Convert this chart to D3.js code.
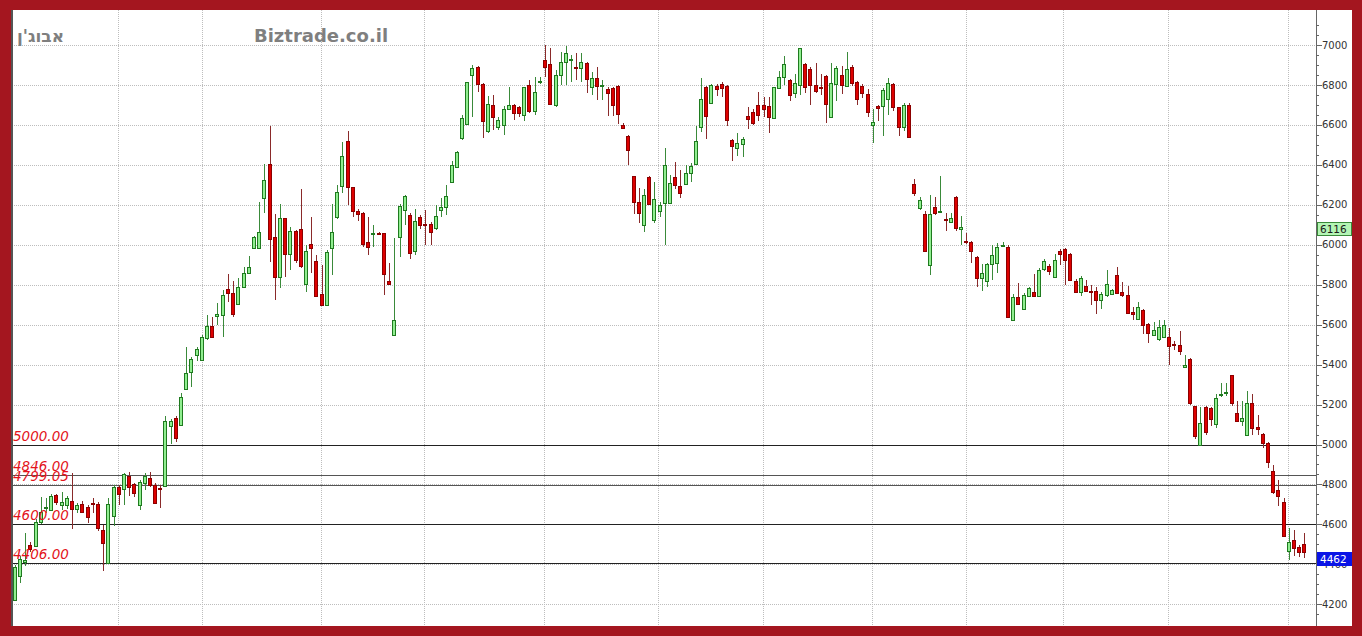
<!DOCTYPE html>
<html><head><meta charset="utf-8">
<script src="https://cdn.jsdelivr.net/npm/d3@7"></script>
<style>html,body{margin:0;padding:0;background:#a4161f;} svg{display:block}</style>
</head><body>
<svg id="c" width="1362" height="636"></svg>
<script>
// ---- data ----
const opens = [4220,4340,4410,4495,4490,4613,4685,4670,4745,4697,4697,4715,4677,4700,4688,4705,4700,4570,4405,4640,
4788,4775,4840,4800,4697,4805,4830,4796,4782,4792,5095,5135,5097,5276,5365,5448,5422,5531,5593,5643,
5648,5777,5757,5703,5790,5860,5982,5985,6235,6403,6040,5837,6132,5953,6068,6079,5803,6003,5920,5753,
5698,5982,6137,6295,6521,6287,6170,6160,6012,6055,6058,6057,5820,5548,6038,6174,6150,5970,6140,6102,
6102,6082,6174,6187,6315,6391,6533,6603,6850,6891,6805,6572,6700,6591,6600,6678,6700,6690,6650,6800,
6670,6814,6925,6903,6700,6850,6917,6928,6888,6883,6911,6791,6833,6798,6778,6786,6795,6599,6544,6346,
6215,6099,6341,6124,6170,6210,6207,6341,6294,6304,6361,6404,6591,6791,6708,6795,6803,6795,6524,6483,
6504,6644,6666,6700,6700,6695,6633,6786,6841,6825,6758,6800,6903,6878,6800,6788,6845,6641,6805,6850,
6795,6888,6816,6795,6753,6599,6695,6695,6728,6805,6688,6590,6700,6304,6182,6152,5898,6187,6165,6128,
6115,6241,6077,6020,6015,5940,5832,5820,5903,5910,5995,5990,5626,5740,5681,5743,5765,5743,5877,5893,
5837,5970,5977,5953,5820,5765,5793,5767,5768,5726,5748,5753,5848,5765,5748,5664,5631,5673,5603,5548,
5526,5539,5539,5503,5498,5386,5426,5192,4997,5186,5181,5102,5250,5257,5347,5160,5118,5047,5206,5088,
5052,5008,4868,4771,4710,4468,4520,4485,4500];
const highs = [4395,4440,4555,4510,4625,4738,4730,4750,4752,4762,4740,4855,4705,4715,4695,4730,4710,4595,4730,4795,
4797,4858,4862,4806,4822,4858,4863,4806,4797,5142,5130,5142,5260,5486,5440,5490,5550,5648,5640,5710,
5773,5853,5820,5832,5890,5943,6045,6215,6403,6594,6154,6204,6135,6090,6075,6277,5998,6140,5950,5898,
5975,6204,6300,6516,6570,6290,6180,6165,6140,6098,6062,6060,5908,6032,6204,6249,6160,6180,6150,6175,
6115,6199,6232,6299,6420,6470,6650,6815,6900,6895,6810,6745,6750,6638,6695,6791,6705,6695,6791,6825,
6838,6841,7000,6983,6875,6966,6995,6950,6958,6958,6915,6866,6888,6825,6791,6791,6800,6611,6549,6346,
6282,6277,6345,6315,6215,6487,6350,6416,6374,6399,6410,6594,6833,6795,6805,6805,6816,6800,6530,6558,
6540,6688,6680,6766,6740,6741,6792,6870,6945,6828,6855,6985,6910,6888,6908,6855,6850,6911,6895,6895,
6966,6900,6820,6805,6778,6678,6700,6783,6833,6810,6690,6710,6710,6332,6240,6170,6249,6241,6344,6157,
6157,6245,6144,6060,6020,5945,5903,5910,5998,6007,6015,5998,5755,5807,5760,5790,5853,5883,5928,5905,
5955,5980,5985,5960,5830,5843,5825,5798,5790,5765,5873,5780,5890,5815,5793,5690,5715,5680,5608,5615,
5625,5625,5581,5518,5569,5448,5435,5195,5190,5192,5190,5252,5306,5310,5350,5218,5218,5268,5254,5147,
5060,5015,4897,4821,4733,4580,4570,4495,4555];
const lows = [4215,4305,4390,4460,4485,4600,4655,4665,4695,4672,4675,4575,4655,4655,4605,4655,4565,4368,4400,4590,
4697,4697,4740,4735,4672,4770,4787,4700,4680,4785,5005,5015,5095,5272,5290,5420,5418,5525,5535,5600,
5540,5715,5640,5700,5788,5853,5978,5982,6160,5915,5723,5782,5840,5873,5907,5885,5765,5857,5738,5695,
5695,5848,6130,6257,6200,6140,6120,5990,5948,5990,6052,5748,5800,5545,5940,6099,5930,5950,6080,5998,
6000,6072,6140,6149,6310,6388,6525,6600,6641,6766,6533,6558,6575,6574,6550,6674,6625,6638,6620,6658,
6650,6805,6841,6700,6690,6800,6800,6816,6825,6816,6758,6750,6725,6725,6645,6645,6603,6578,6400,6154,
6107,6065,6200,6107,6140,5998,6205,6277,6232,6299,6315,6400,6566,6528,6705,6745,6741,6594,6420,6444,
6440,6578,6600,6621,6640,6558,6628,6780,6800,6720,6733,6750,6758,6700,6760,6750,6611,6638,6721,6755,
6788,6795,6700,6733,6638,6508,6620,6545,6650,6670,6543,6570,6535,6244,6175,5965,5848,6149,6160,6070,
6107,6070,5998,6002,5907,5790,5770,5790,5823,5857,5990,5635,5620,5698,5675,5740,5740,5740,5870,5850,
5832,5900,5798,5818,5760,5743,5765,5698,5656,5680,5740,5748,5755,5740,5656,5626,5626,5553,5506,5543,
5520,5533,5397,5475,5448,5384,5198,5030,4995,5050,5092,5085,5240,5245,5195,5113,5095,5045,5047,5047,
4985,4880,4750,4691,4535,4420,4440,4438,4430];
const closes = [4385,4425,4420,4475,4612,4663,4688,4740,4713,4712,4730,4675,4697,4663,4635,4703,4580,4505,4700,4788,
4752,4850,4788,4758,4813,4840,4796,4708,4780,5118,5117,5035,5240,5356,5430,5476,5536,5592,5540,5656,
5748,5757,5653,5790,5857,5887,6040,6062,6323,6027,5837,6132,5952,6068,5923,5893,5968,5985,5745,5698,
5965,6062,6262,6443,6287,6169,6152,6003,5990,6058,6055,5853,5802,5626,6194,6244,5960,6120,6099,6097,
6062,6144,6190,6244,6399,6466,6633,6813,6883,6805,6620,6705,6638,6624,6678,6700,6662,6658,6788,6671,
6763,6818,6891,6705,6850,6916,6958,6932,6884,6917,6830,6833,6795,6802,6758,6700,6653,6583,6474,6212,
6160,6249,6205,6227,6199,6399,6310,6299,6257,6361,6394,6521,6728,6645,6800,6778,6783,6625,6494,6508,
6528,6632,6608,6650,6678,6638,6788,6838,6903,6750,6811,6983,6788,6800,6772,6784,6705,6808,6883,6800,
6878,6808,6728,6758,6666,6616,6683,6775,6808,6688,6588,6700,6540,6260,6224,5970,6154,6160,6168,6126,
6132,6085,6088,6016,5970,5832,5857,5903,5948,5987,6000,5640,5740,5703,5748,5782,5743,5873,5920,5870,
5923,5953,5923,5823,5765,5832,5770,5763,5726,5756,5803,5773,5760,5748,5660,5653,5688,5598,5556,5573,
5590,5598,5493,5500,5470,5397,5206,5042,5110,5064,5126,5231,5254,5261,5208,5118,5135,5206,5085,5080,
5008,4913,4760,4741,4541,4513,4480,4463,4462];
const monthBreaks = [19.9, 36, 58.9, 78.7, 101.8, 123.7, 143.9, 164.9, 182.9, 201.6, 221.8, 244.9];
const levels = [5000, 4846, 4799.05, 4600, 4406];
const levelLabels = ["5000.00", "4846.00", "4799.05", "4600.00", "4406.00"];
const yTicks = d3.range(4200, 7001, 200);
const yMinorTicks = d3.range(4150, 7101, 50);
const markerValues = [6116, 4462];
const titleText = "אבוג'ן";
const siteText = "Biztrade.co.il";

// ---- drawing ----
const svg = d3.select("#c");
const W = 1362, H = 636;
const frame = {l: 12, t: 10, r: 1352, b: 626};
const axisX = 1316;

svg.append("rect").attr("width", W).attr("height", H).attr("fill", "#a4161f");
svg.append("rect").attr("x", frame.l).attr("y", frame.t).attr("width", frame.r - frame.l).attr("height", frame.b - frame.t).attr("fill", "#ffffff");

const y = d3.scaleLinear().domain([4200, 7000]).range([604.3, 45.1]);
const x = d3.scaleLinear().domain([0, opens.length - 1]).range([14.7, 1304.3]);

const g = svg.append("g").attr("shape-rendering", "crispEdges");

// grid
g.selectAll("line.hg").data(yTicks).join("line")
  .attr("x1", frame.l).attr("x2", axisX)
  .attr("y1", d => Math.round(y(d)) + 0.5).attr("y2", d => Math.round(y(d)) + 0.5)
  .attr("stroke", "#bdbdbd").attr("stroke-dasharray", "1,1");
g.selectAll("line.vg").data(monthBreaks).join("line")
  .attr("x1", d => Math.round(x(d)) + 0.5).attr("x2", d => Math.round(x(d)) + 0.5)
  .attr("y1", frame.t).attr("y2", frame.b)
  .attr("stroke", "#bdbdbd").attr("stroke-dasharray", "1,1");

// level lines
g.selectAll("line.lv").data(levels).join("line")
  .attr("x1", frame.l).attr("x2", axisX)
  .attr("y1", d => Math.round(y(d)) + 0.5).attr("y2", d => Math.round(y(d)) + 0.5)
  .attr("stroke", (d, i) => (i === 1 || i === 2) ? "#555" : "#222")
  .attr("stroke-width", (d, i) => (i === 1 || i === 2) ? 1.5 : 1);

// candles
const idx = d3.range(opens.length);
const cg = g.append("g");
idx.forEach(i => {
  const o = opens[i], c = closes[i], h = highs[i], l = lows[i];
  const up = c >= o;
  const r = Math.round(x(i)) - 1;
  const yh = Math.round(y(h)), yl = Math.round(y(l));
  const top = Math.round(y(Math.max(o, c))), bot = Math.round(y(Math.min(o, c)));
  const bh = Math.max(1, bot - top);
  cg.append("rect").attr("x", r + 1).attr("y", yh).attr("width", 1).attr("height", Math.max(1, yl - yh))
    .attr("fill", up ? "#3a8a3a" : "#8a2a2a");
  cg.append("rect").attr("x", r - 1).attr("y", top).attr("width", 4).attr("height", bh + 1)
    .attr("fill", up ? "#1f7a1f" : "#8c0000");
  if (bh >= 2) {
    cg.append("rect").attr("x", r).attr("y", top + 1).attr("width", 2).attr("height", bh - 1)
      .attr("fill", up ? "#90ee90" : "#dd0000");
  }
});

// left border and axis line
g.append("rect").attr("x", 11).attr("y", frame.t).attr("width", 2).attr("height", frame.b - frame.t).attr("fill", "#555");
g.append("line").attr("x1", axisX + 0.5).attr("x2", axisX + 0.5).attr("y1", frame.t).attr("y2", frame.b).attr("stroke", "#666");

// right axis ticks
g.selectAll("line.mt").data(yMinorTicks.filter(v => y(v) > frame.t && y(v) < frame.b)).join("line")
  .attr("x1", axisX).attr("x2", d => axisX + (d % 200 === 0 ? 6 : 3))
  .attr("y1", d => Math.round(y(d)) + 0.5).attr("y2", d => Math.round(y(d)) + 0.5)
  .attr("stroke", "#666");
svg.selectAll("text.yt").data(yTicks).join("text")
  .attr("x", axisX + 6).attr("y", d => y(d) + 3.5)
  .attr("font-family", "DejaVu Sans").attr("font-size", 10).attr("fill", "#333")
  .text(d => d);

// level labels
svg.selectAll("text.lvl").data(levels).join("text")
  .attr("x", 13).attr("y", d => y(d) - 4)
  .attr("font-family", "DejaVu Sans").attr("font-style", "italic").attr("font-size", 13.5)
  .attr("fill", "#e3131b")
  .text((d, i) => levelLabels[i]);

// value markers on the axis (drawn above the tick labels)
const mk = [{v: markerValues[0], fill: "#b4f5b4", stroke: "#3a8a3a", tc: "#1a1a1a"},
            {v: markerValues[1], fill: "#0a14e6", stroke: "#0a14e6", tc: "#ffffff"}];
mk.forEach(m => {
  const yy = Math.round(y(m.v));
  svg.append("rect").attr("x", axisX + 1.5).attr("y", yy + 0.5).attr("width", 34).attr("height", 13)
    .attr("shape-rendering", "crispEdges")
    .attr("fill", m.fill).attr("stroke", m.stroke);
  svg.append("text").attr("x", axisX + 4).attr("y", yy + 11)
    .attr("font-family", "DejaVu Sans").attr("font-size", 10.5).attr("fill", m.tc).text(m.v);
});

// titles
svg.append("text").attr("x", 40.5).attr("y", 42).attr("text-anchor", "middle")
  .attr("font-family", "DejaVu Sans").attr("font-weight", "bold").attr("font-size", 17)
  .attr("fill", "#7f7f7f").text(titleText);
svg.append("text").attr("x", 321).attr("y", 42).attr("text-anchor", "middle")
  .attr("font-family", "DejaVu Sans").attr("font-weight", "bold").attr("font-size", 18)
  .attr("fill", "#7f7f7f").text(siteText);
</script>
</body></html>
